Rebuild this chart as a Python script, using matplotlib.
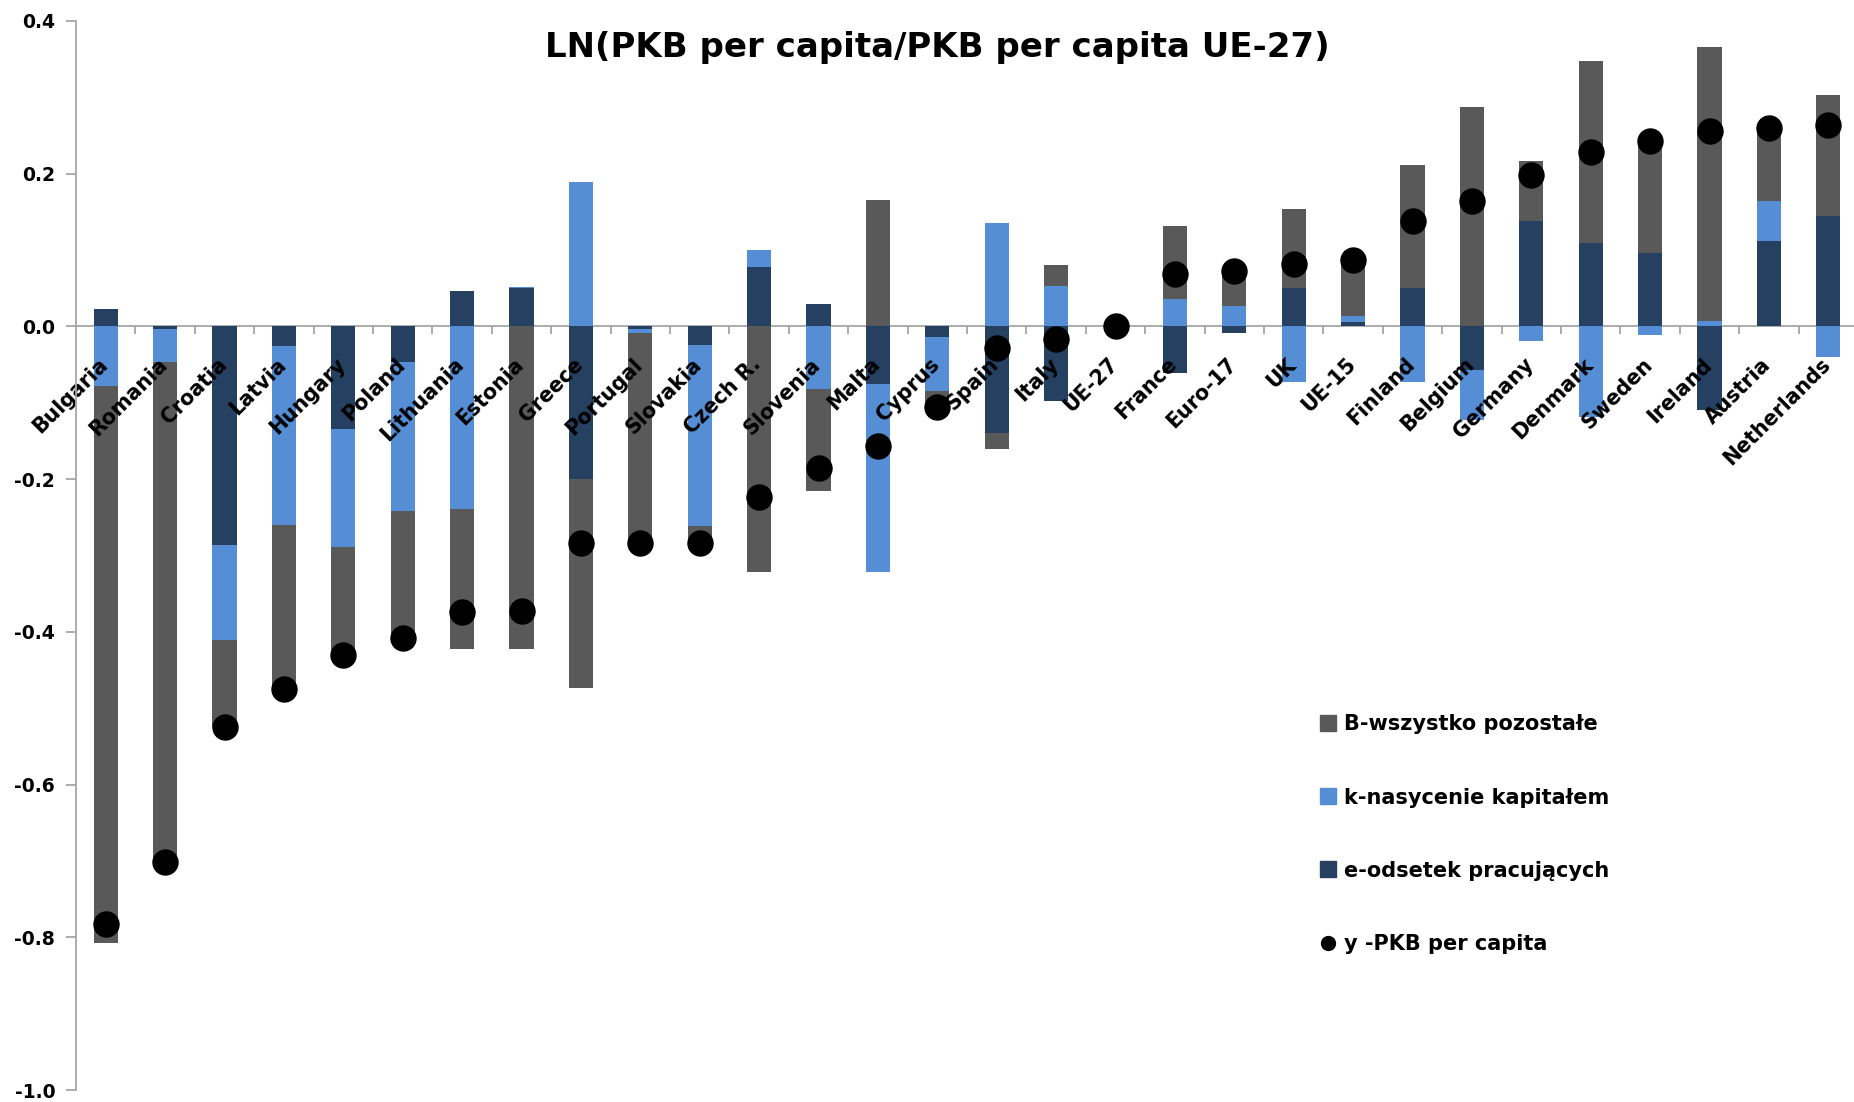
import numpy as np
import matplotlib
matplotlib.use("Agg")
import matplotlib.pyplot as plt
import matplotlib.transforms as mtransforms
from matplotlib.lines import Line2D

plt.rcParams['font.family'] = ['DejaVu Sans']
plt.rcParams['axes.unicode_minus'] = False

# Dane
kraje = ["Bulgaria", "Romania", "Croatia", "Latvia", "Hungary", "Poland", "Lithuania",
         "Estonia", "Greece", "Portugal", "Slovakia", "Czech R.", "Slovenia", "Malta",
         "Cyprus", "Spain", "Italy", "UE-27", "France", "Euro-17", "UK", "UE-15",
         "Finland", "Belgium", "Germany", "Denmark", "Sweden", "Ireland", "Austria",
         "Netherlands"]
e_odsetek = [0.023, -0.004, -0.286, -0.025, -0.134, -0.047, 0.046, 0.050, -0.200, -0.004,
             -0.024, 0.078, 0.030, -0.075, -0.014, -0.140, -0.098, 0.0, -0.061, -0.009,
             0.050, 0.006, 0.050, -0.057, 0.138, 0.109, 0.096, -0.110, 0.112, 0.145]
k_kapital = [-0.078, -0.042, -0.125, -0.235, -0.155, -0.195, -0.239, 0.002, 0.189, -0.004,
             -0.238, 0.022, -0.082, -0.247, -0.071, 0.135, 0.053, 0.0, 0.036, 0.027,
             -0.073, 0.008, -0.073, -0.066, -0.019, -0.118, -0.011, 0.007, 0.052, -0.040]
B_reszta = [-0.729, -0.659, -0.114, -0.218, -0.143, -0.168, -0.183, -0.422, -0.273, -0.277,
            -0.024, -0.322, -0.133, 0.165, -0.018, -0.021, 0.027, 0.0, 0.095, 0.048,
            0.104, 0.073, 0.161, 0.287, 0.079, 0.239, 0.146, 0.359, 0.096, 0.158]
y_pkb = [-0.782, -0.702, -0.525, -0.475, -0.430, -0.408, -0.374, -0.373, -0.284, -0.283,
         -0.284, -0.223, -0.185, -0.157, -0.106, -0.028, -0.017, 0.0, 0.069, 0.072,
         0.082, 0.087, 0.138, 0.164, 0.198, 0.228, 0.243, 0.256, 0.260, 0.264]
y_ticki = [-1.0, -0.8, -0.6, -0.4, -0.2, 0.0, 0.2, 0.4]

c_B = "#595959"
c_k = "#558ed5"
c_e = "#254061"
c_os = "#a6a6a6"

fig = plt.figure(figsize=(18.54, 11.02), dpi=100)
# ostatnia kategoria lekko przycięta prawą krawędzią, jak w oryginale
ax = fig.add_axes([76/1854, 12/1102, 1782/1854, 1069/1102])

x = np.arange(len(kraje))
szer = 0.41

# Słupki skumulowane (dodatnie w górę, ujemne w dół - jak w Excelu)
gora = np.zeros(len(kraje))
dol = np.zeros(len(kraje))
for wart, kol in [(e_odsetek, c_e), (k_kapital, c_k), (B_reszta, c_B)]:
    wart = np.array(wart)
    baza = np.where(wart >= 0, gora, dol)
    ax.bar(x, wart, szer, bottom=baza, color=kol, zorder=1)
    gora += np.clip(wart, 0, None)
    dol += np.clip(wart, None, 0)

ax.plot(x, y_pkb, 'o', color='black', markersize=18, zorder=4)

# Osie
ax.set_xlim(-0.5, len(kraje) - 0.5)
ax.set_ylim(-1.0, 0.4)
ax.set_yticks(y_ticki)
ax.set_yticklabels(["%.1f" % v for v in y_ticki])
ax.spines['top'].set_visible(False)
ax.spines['right'].set_visible(False)
ax.spines['bottom'].set_position(('data', 0))
for s in ['left', 'bottom']:
    ax.spines[s].set_color(c_os)
    ax.spines[s].set_linewidth(1.3)
ax.spines['bottom'].set_zorder(0.5)

ax.set_xticks(x)
ax.set_xticklabels(kraje, rotation=45, ha='right', va='top', rotation_mode='anchor',
                   fontsize=14.8, fontweight='bold')
ax.tick_params(axis='x', length=0, pad=20)
ax.set_xticks(x[:-1] + 0.5, minor=True)
ax.tick_params(axis='x', which='minor', length=5.5, color=c_os, width=1.3, direction='out')
ax.tick_params(axis='y', length=7, color=c_os, width=1.3, labelsize=13.5, pad=8)
for t in ax.get_yticklabels():
    t.set_fontweight('bold')
przesun = mtransforms.ScaledTranslation(-8/100, 0, fig.dpi_scale_trans)
for t in ax.get_xticklabels():
    t.set_zorder(3)
    t.set_transform(t.get_transform() + przesun)

fig.text(937/1854, 1 - 47/1102, "LN(PKB per capita/PKB per capita UE-27)",
         ha='center', va='center', fontsize=24.5, fontweight='bold')

# Legenda
uchwyty = [Line2D([], [], marker='s', ls='', color=c_B, markersize=11),
           Line2D([], [], marker='s', ls='', color=c_k, markersize=11),
           Line2D([], [], marker='s', ls='', color=c_e, markersize=11),
           Line2D([], [], marker='o', ls='', color='black', markersize=10)]
etykiety = ["B-wszystko pozostałe", "k-nasycenie kapitałem", "e-odsetek pracujących",
            "y -PKB per capita"]
fig.legend(uchwyty, etykiety, loc='upper left', bbox_to_anchor=(1309/1854, 1 - 704/1102),
           frameon=False, prop={'size': 15, 'weight': 'bold'}, labelspacing=2.55,
           handlelength=0.8, handletextpad=0.36, borderpad=0)

fig.savefig("out.png", dpi=100)
